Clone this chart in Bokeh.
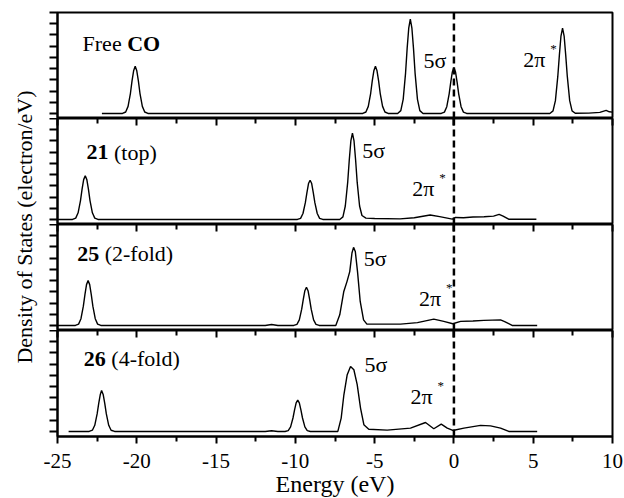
import math
from bokeh.plotting import figure
from bokeh.layouts import row, column
from bokeh.models import Range1d, FixedTicker, LinearAxis, Span, Label
from bokeh.embed import file_html
from bokeh.resources import INLINE

# ---------------- data ----------------
x_major_ticks = [-25, -20, -15, -10, -5, 0, 5, 10]
x_tick_labels = ["-25", "-20", "-15", "-10", "-5", "0", "5", "10"]
x_minor_ticks = [-22.5, -17.5, -12.5, -7.5, -2.5, 2.5, 7.5]
y_ticks = [0, 1, 2, 3, 4, 5, 6, 7, 8, 9]

free_energy = [-22.2, -20.9, -20.7, -20.55, -20.4, -20.3, -20.2, -20.1, -20.0, -19.9, -19.8, -19.65, -19.5, -19.3,
               -5.75, -5.55, -5.4, -5.25, -5.15, -5.05, -4.95, -4.85, -4.75, -4.65, -4.5, -4.35, -4.15,
               -3.55, -3.35, -3.2, -3.05, -2.95, -2.85, -2.75, -2.65, -2.55, -2.45, -2.3, -2.15, -1.95,
               -0.8, -0.6, -0.45, -0.3, -0.2, -0.1, 0.0, 0.1, 0.2, 0.3, 0.45, 0.6, 0.8,
               6.05, 6.25, 6.4, 6.55, 6.65, 6.75, 6.85, 6.95, 7.05, 7.15, 7.3, 7.45, 7.65,
               8.5, 9.2, 9.6, 9.8, 10.0]
free_dos = [0.0, 0.0, 0.13, 0.63, 1.8, 2.9, 3.8, 4.2, 3.8, 2.9, 1.8, 0.63, 0.13, 0.0,
            0.0, 0.13, 0.63, 1.8, 2.9, 3.8, 4.2, 3.8, 2.9, 1.8, 0.63, 0.13, 0.0,
            0.0, 0.25, 1.26, 3.6, 5.8, 7.6, 8.4, 7.6, 5.8, 3.6, 1.26, 0.25, 0.0,
            0.0, 0.12, 0.6, 1.75, 2.8, 3.7, 4.1, 3.7, 2.8, 1.75, 0.6, 0.12, 0.0,
            0.0, 0.23, 1.14, 3.3, 5.2, 6.9, 7.6, 6.9, 5.2, 3.3, 1.14, 0.23, 0.02,
            0.03, 0.1, 0.27, 0.15, 0.12]

top21_energy = [-25.0, -24.05, -23.85, -23.7, -23.55, -23.45, -23.35, -23.25, -23.15, -23.05, -22.95, -22.8, -22.65, -22.45,
                -9.87, -9.67, -9.52, -9.37, -9.27, -9.17, -9.07, -8.97, -8.87, -8.77, -8.62, -8.47, -8.27,
                -7.2, -7.0, -6.85, -6.7, -6.6, -6.5, -6.4, -6.3, -6.2, -6.1, -5.95, -5.8, -5.55, -5.0,
                -3.4, -2.5, -1.5, -0.9, -0.1, 0.1, 0.6, 1.2, 1.9, 2.5, 2.85, 3.1, 3.45, 5.2]
top21_dos = [0.0, 0.0, 0.12, 0.59, 1.68, 2.7, 3.55, 3.9, 3.55, 2.7, 1.68, 0.59, 0.12, 0.0,
             0.0, 0.1, 0.53, 1.5, 2.4, 3.2, 3.5, 3.2, 2.4, 1.5, 0.53, 0.1, 0.0,
             0.0, 0.23, 1.2, 3.3, 5.3, 7.0, 7.7, 7.0, 5.3, 3.3, 1.2, 0.35, 0.12, 0.08,
             0.05, 0.15, 0.4, 0.25, 0.03, 0.18, 0.15, 0.22, 0.24, 0.3, 0.45, 0.3, 0.02, 0.02]

twofold25_energy = [-25.0, -23.87, -23.67, -23.52, -23.37, -23.27, -23.17, -23.07, -22.97, -22.87, -22.77, -22.62, -22.47, -22.27,
                    -11.9, -11.5, -11.1,
                    -10.1, -9.9, -9.75, -9.6, -9.5, -9.4, -9.3, -9.2, -9.1, -9.0, -8.85, -8.7, -8.5,
                    -7.45, -7.2, -6.95, -6.74, -6.57, -6.43, -6.33, -6.22, -6.08, -5.91, -5.7, -5.49,
                    -3.37, -2.3, -1.27, -0.64, -0.07, 0.42, 1.2, 1.89, 2.94, 3.2, 3.67, 5.25]
twofold25_dos = [0.0, 0.0, 0.12, 0.6, 1.72, 2.75, 3.64, 4.0, 3.64, 2.75, 1.72, 0.6, 0.12, 0.0,
                 0.0, 0.08, 0.0,
                 0.0, 0.1, 0.5, 1.45, 2.33, 3.1, 3.4, 3.1, 2.33, 1.45, 0.5, 0.1, 0.0,
                 0.0, 0.95, 3.0, 3.93, 4.8, 6.46, 6.96, 6.6, 4.8, 2.14, 0.5, 0.12,
                 0.12, 0.25, 0.56, 0.36, 0.15, 0.36, 0.4, 0.45, 0.5, 0.35, 0.0, 0.0]

fourfold26_energy = [-24.3, -23.0, -22.8, -22.65, -22.5, -22.4, -22.3, -22.22, -22.12, -22.02, -21.92, -21.77, -21.62, -21.4,
                     -11.9, -11.5, -11.1,
                     -10.65, -10.45, -10.3, -10.15, -10.05, -9.95, -9.85, -9.75, -9.65, -9.55, -9.4, -9.25, -9.05,
                     -7.32, -7.11, -6.94, -6.73, -6.52, -6.31, -6.1, -5.89, -5.68, -5.37, -4.21, -2.74, -1.79, -1.27,
                     -0.8, -0.42, -0.07, 0.63, 1.68, 2.31, 2.94, 3.46, 5.25]
fourfold26_dos = [0.0, 0.0, 0.11, 0.55, 1.56, 2.5, 3.3, 3.66, 3.3, 2.5, 1.56, 0.55, 0.11, 0.0,
                  0.0, 0.06, 0.0,
                  0.0, 0.08, 0.41, 1.2, 1.92, 2.55, 2.8, 2.55, 1.92, 1.2, 0.41, 0.08, 0.0,
                  0.0, 1.19, 3.27, 5.06, 5.8, 5.5, 4.17, 2.08, 0.6, 0.2, 0.12, 0.3, 0.8, 0.24,
                  0.65, 0.3, 0.09, 0.3, 0.54, 0.5, 0.3, 0.0, 0.0]

FONT = "Liberation Serif"
x_range = Range1d(-25, 10)


def x_ticker():
    return FixedTicker(ticks=x_major_ticks, minor_ticks=x_minor_ticks)


def make_panel(energy, dos, first=False, last=False):
    p = figure(frame_width=555, frame_height=106, x_range=x_range, y_range=Range1d(-0.45, 9.0),
               output_backend="svg", toolbar_location=None,
               x_axis_location="below" if last else None,
               min_border_left=17, min_border_right=12,
               min_border_top=12 if first else 0, min_border_bottom=62 if last else 0)
    p.xgrid.visible = False
    p.ygrid.visible = False
    p.outline_line_color = "black"
    p.outline_line_width = 2
    p.outline_line_alpha = 1
    p.background_fill_color = "white"
    p.border_fill_color = "white"

    ya = p.left[0]
    ya.ticker = FixedTicker(ticks=y_ticks)
    ya.major_label_overrides = {t: "" for t in y_ticks}
    ya.major_label_text_font_size = "10px"
    ya.major_label_standoff = 0
    ya.major_tick_out = 8
    ya.major_tick_in = 0
    ya.minor_tick_out = 0
    ya.minor_tick_in = 0
    ya.major_tick_line_width = 2
    ya.axis_line_width = 2

    if last:
        xa = p.below[0]
        xa.ticker = x_ticker()
        xa.major_label_overrides = {t: s for t, s in zip(x_major_ticks, x_tick_labels)}
        xa.major_tick_out = 7
        xa.major_tick_in = 0
        xa.minor_tick_out = 5
        xa.minor_tick_in = 0
        xa.major_tick_line_width = 2
        xa.minor_tick_line_width = 2
        xa.axis_line_width = 2
        xa.major_label_text_font = FONT
        xa.major_label_text_font_size = "21px"
        xa.major_label_text_color = "black"
        xa.major_label_standoff = 10
        xa.axis_label = "Energy (eV)"
        xa.axis_label_text_font = FONT
        xa.axis_label_text_font_size = "24px"
        xa.axis_label_text_font_style = "normal"
        xa.axis_label_text_color = "black"
        xa.axis_label_standoff = 0

    if not first:
        top = LinearAxis(ticker=x_ticker(), major_tick_in=7, major_tick_out=0,
                         minor_tick_in=5, minor_tick_out=0,
                         major_label_overrides={t: "" for t in x_major_ticks},
                         major_label_text_font_size="1px", major_label_standoff=0,
                         major_tick_line_width=2, minor_tick_line_width=2,
                         axis_line_color=None)
        p.add_layout(top, "above")

    p.line(energy, dos, line_color="black", line_width=1.4)
    p.add_layout(Span(location=0, dimension="height", line_color="black",
                      line_width=2.5, line_dash="7 4"))
    return p


def add_text(p, x, y, text, style="normal", x_offset=0, y_offset=0, size="22px"):
    p.add_layout(Label(x=x, y=y, text=text, x_offset=x_offset, y_offset=y_offset,
                       text_font=FONT, text_font_size=size, text_font_style=style,
                       text_color="black", text_baseline="middle", text_align="left"))


def add_two_pi_star(p, x, y):
    add_text(p, x, y, "2π")
    add_text(p, x, y, "*", x_offset=27, y_offset=11, size="13px")


p1 = make_panel(free_energy, free_dos, first=True)
add_text(p1, -23.42, 6.25, "Free ")
add_text(p1, -23.42, 6.25, "CO", style="bold", x_offset=44.6)
add_text(p1, -1.92, 4.7, "5σ")
add_two_pi_star(p1, 4.37, 4.8)

p2 = make_panel(top21_energy, top21_dos)
add_text(p2, -23.17, 6.0, "21", style="bold")
add_text(p2, -23.17, 6.0, "(top)", x_offset=27.5)
add_text(p2, -5.78, 6.19, "5σ")
add_two_pi_star(p2, -2.63, 2.72)

p3 = make_panel(twofold25_energy, twofold25_dos)
add_text(p3, -23.76, 6.38, "25", style="bold")
add_text(p3, -23.76, 6.38, "(2-fold)", x_offset=27.5)
add_text(p3, -5.68, 6.0, "5σ")
add_two_pi_star(p3, -2.21, 2.37)

p4 = make_panel(fourfold26_energy, fourfold26_dos, last=True)
add_text(p4, -23.34, 6.47, "26", style="bold")
add_text(p4, -23.34, 6.47, "(4-fold)", x_offset=27.5)
add_text(p4, -5.64, 5.95, "5σ")
add_two_pi_star(p4, -2.74, 3.12)

# narrow figure carrying the shared y-axis title
lab = figure(width=40, height=498, x_range=Range1d(0, 40), y_range=Range1d(0, 498),
             output_backend="svg", toolbar_location=None,
             x_axis_location=None, y_axis_location=None,
             min_border=0, outline_line_color=None)
lab.xgrid.visible = False
lab.ygrid.visible = False
lab.add_layout(Label(x=24, y=498 - 226.5, text="Density of States (electron/eV)", angle=math.pi / 2,
                     text_font=FONT, text_font_size="22px", text_color="black",
                     text_align="center", text_baseline="middle"))

layout = row(lab, column(p1, p2, p3, p4, spacing=0), spacing=0)

open("out.html", "w").write(file_html(layout, INLINE))
